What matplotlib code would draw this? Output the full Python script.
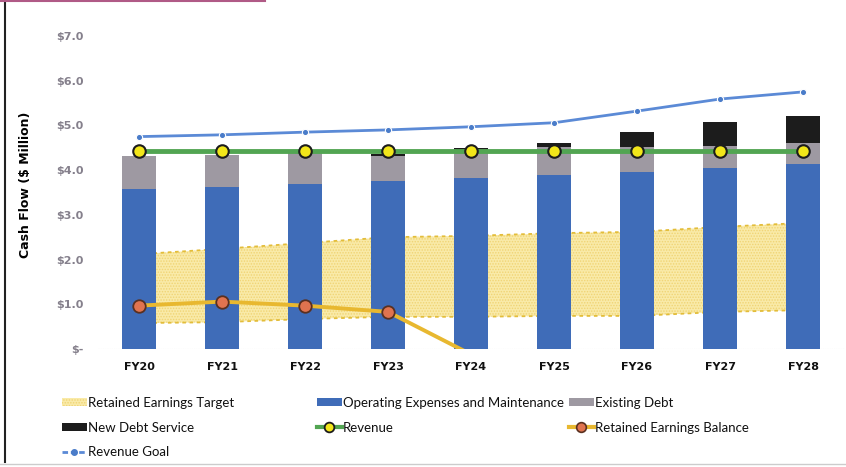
import numpy as np
import matplotlib.pyplot as plt
from matplotlib.patches import Patch
from matplotlib.lines import Line2D

# fiscal years and cash flow figures ($ million)
years = ['FY20', 'FY21', 'FY22', 'FY23', 'FY24', 'FY25', 'FY26', 'FY27', 'FY28']
opex = [3.58, 3.62, 3.69, 3.76, 3.82, 3.89, 3.96, 4.05, 4.14]
existing_debt = [0.74, 0.72, 0.71, 0.56, 0.63, 0.63, 0.56, 0.49, 0.47]
new_debt = [0.0, 0.0, 0.0, 0.05, 0.04, 0.09, 0.34, 0.54, 0.60]
revenue = [4.43, 4.43, 4.43, 4.43, 4.43, 4.43, 4.43, 4.43, 4.43]
revenue_goal = [4.75, 4.79, 4.85, 4.90, 4.97, 5.06, 5.32, 5.59, 5.75]
target_low = [0.58, 0.60, 0.67, 0.72, 0.72, 0.74, 0.74, 0.83, 0.87]
target_high = [2.12, 2.24, 2.37, 2.50, 2.53, 2.59, 2.62, 2.73, 2.82]
re_balance = [0.97, 1.06, 0.97, 0.83, -0.12]

yticks = [0, 1, 2, 3, 4, 5, 6, 7]
ytick_labels = ['$-', '$1.0', '$2.0', '$3.0', '$4.0', '$5.0', '$6.0', '$7.0']

blue = '#3f6cb8'
grey = '#9e99a2'
black = '#1c1c1c'
green = '#52a552'
gold = '#e8b830'
band_face = '#f9eaa8'
band_dots = '#f0d474'

plt.rcParams['hatch.linewidth'] = 0.7

fig = plt.figure(figsize=(8.46, 4.67), dpi=100)
ax = fig.add_axes([97.5 / 846, 1 - 349 / 467, 747 / 846, 313 / 467])

x = np.arange(len(years))
w = 0.40

# retained earnings target band
ax.fill_between(x, target_low, target_high, facecolor=band_face, edgecolor=band_dots,
                hatch='......', linewidth=0, zorder=1)
ax.plot(x, target_high, color='#e3bd3a', lw=1.3, ls=(0, (2, 2)), zorder=1.5)
ax.plot(x, target_low, color='#e3bd3a', lw=1.3, ls=(0, (2, 2)), zorder=1.5)

# stacked cost bars
bottom2 = np.array(opex) + np.array(existing_debt)
ax.bar(x, opex, w, color=blue, zorder=2)
ax.bar(x, existing_debt, w, bottom=opex, color=grey, zorder=2)
ax.bar(x, new_debt, w, bottom=bottom2, color=black, zorder=2)

# lines
ax.plot(x, revenue_goal, color='#5b8ad6', lw=2, marker='o', ms=4.5,
        mfc='#4a7cc9', mec='white', mew=0.8, zorder=3)
ax.plot(x, revenue, color=green, lw=3.5, marker='o', ms=9,
        mfc='#f2e61a', mec='#1c1c1c', mew=1.5, zorder=4)
shown = [i for i, v in enumerate(re_balance) if v >= 0]
ax.plot(x[:len(re_balance)], re_balance, color=gold, lw=2.8, marker='o', ms=9,
        markevery=shown, mfc='#e0734f', mec='#5a3020', mew=1.3, zorder=4)

ax.axhline(0, color='#d8d8d8', lw=0.8, ls=(0, (1, 1)), zorder=1)

ax.set_xlim(-0.5, len(years) - 0.5)
ax.set_ylim(0, 7)
ax.set_yticks(yticks)
ax.set_yticklabels(ytick_labels, color='#85808c', fontsize=8, fontweight='bold')
ax.set_xticks(x)
ax.set_xticklabels(years, fontsize=8, fontweight='bold', color='#111111')
ax.tick_params(axis='y', length=0, pad=10)
ax.tick_params(axis='x', length=0, pad=9)
for s in ax.spines.values():
    s.set_visible(False)

fig.text(25 / 846, 1 - 185 / 467, 'Cash Flow ($ Million)', rotation=90,
         fontsize=9, fontweight='bold', ha='center', va='center')

# legend, laid out in three columns
band_h = Patch(facecolor=band_face, edgecolor=band_dots, hatch='......', lw=0)
opex_h = Patch(facecolor=blue)
debt_h = Patch(facecolor=grey)
new_h = Patch(facecolor=black)
rev_h = Line2D([], [], color=green, lw=3, marker='o', ms=7, mfc='#f2e61a', mec='#1c1c1c', mew=1.3)
reb_h = Line2D([], [], color=gold, lw=3, marker='o', ms=7, mfc='#e0734f', mec='#5a3020', mew=1.2)
goal_h = Line2D([], [], color='#5b8ad6', lw=2, ls=(0, (2, 1)), marker='o', ms=4, mfc='#4a7cc9', mec='#4a7cc9')

leg_kw = dict(frameon=False, prop={'family': 'Lato', 'size': 9.5}, handlelength=1.9,
              handleheight=0.55, handletextpad=0.1, labelspacing=0.98, borderpad=0,
              loc='upper left', labelcolor='#111111')
fig.legend([band_h, new_h, goal_h], ['Retained Earnings Target', 'New Debt Service', 'Revenue Goal'],
           bbox_to_anchor=(55 / 846, 1 - 390 / 467), **leg_kw)
fig.legend([opex_h, rev_h], ['Operating Expenses and Maintenance', 'Revenue'],
           bbox_to_anchor=(310 / 846, 1 - 390 / 467), **leg_kw)
fig.legend([debt_h, reb_h], ['Existing Debt', 'Retained Earnings Balance'],
           bbox_to_anchor=(562 / 846, 1 - 390 / 467), **leg_kw)

# frame lines
fig.add_artist(Line2D([5 / 846, 5 / 846], [1 - 462 / 467, 1.0], color='#222222', lw=1.5))
fig.add_artist(Line2D([0, 1], [1 - 464 / 467, 1 - 464 / 467], color='#cccccc', lw=1))
fig.add_artist(Line2D([0, 265 / 846], [1 - 1 / 467, 1 - 1 / 467], color='#b05a86', lw=1.5))

fig.savefig('out.png', dpi=100)
